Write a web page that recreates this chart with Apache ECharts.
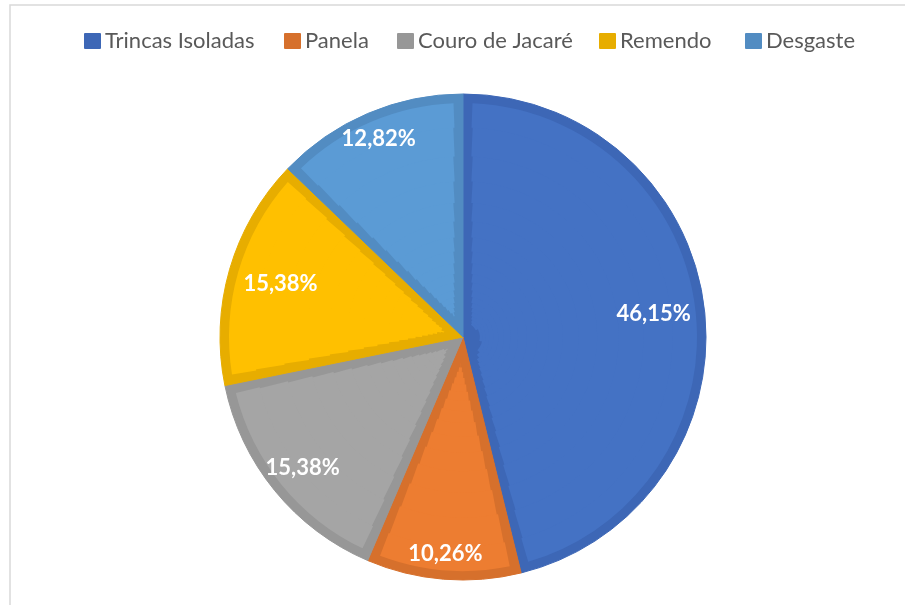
<!DOCTYPE html>
<html><head><meta charset="utf-8">
<script src="https://cdn.jsdelivr.net/npm/echarts@6/dist/echarts.min.js"></script>
<style>html,body{margin:0;padding:0;background:#fff}#c{width:905px;height:605px}</style>
</head><body><div id="c"></div>
<script>
// ---- data ----
const categories = ['Trincas Isoladas', 'Panela', 'Couro de Jacaré', 'Remendo', 'Desgaste'];
const percentages = [46.15, 10.26, 15.38, 15.38, 12.82];
// ---- styles ----
const fillColors = ['#4472C4', '#ED7D31', '#A5A5A5', '#FFC000', '#5B9BD5'];
const edgeColors = ['#3D67B6', '#D6702C', '#979797', '#E7AD00', '#528CC2'];
const labelRadius = [189, 215, 204, 187, 212];
const legendLefts = [84, 284, 397, 599, 745];

const CX = 463, CY = 337, R = 243, BAND = 9;
const FONT = 'Lato';

const chart = echarts.init(document.getElementById('c'));
const series = [];
const base = { type: 'pie', center: [CX, CY], startAngle: 90, clockwise: true, silent: true,
  label: { show: false }, labelLine: { show: false }, emphasis: { disabled: true }, animation: false };

// darker outline layer
series.push(Object.assign({}, base, {
  radius: [0, R],
  data: categories.map((n, i) => ({ name: n, value: percentages[i],
    itemStyle: { color: edgeColors[i], borderColor: edgeColors[i], borderWidth: 1 } }))
}));

// lighter inner fill, built from rings so the inset stays ~BAND px wide
const inner = R - BAND;
let r = 8;
while (r < inner) {
  let r2 = Math.min(inner, r * 1.16);
  if (inner - r2 < 3) r2 = inner;
  const mid = Math.sqrt(r * r2);
  const pad = (2 * BAND / mid) * 180 / Math.PI;
  series.push(Object.assign({}, base, {
    radius: [r, r2 >= inner ? inner : r2 + 1],
    padAngle: pad,
    data: categories.map((n, i) => ({ name: n, value: percentages[i],
      itemStyle: { color: fillColors[i], borderWidth: 0 } }))
  }));
  r = r2;
}

// labels
categories.forEach((name, k) => {
  series.push(Object.assign({}, base, {
    radius: [0, 2 * labelRadius[k]],
    itemStyle: { color: 'rgba(0,0,0,0)', borderWidth: 0 },
    label: { show: true, position: 'inside', rotate: 0, color: '#ffffff', fontSize: 22,
      fontWeight: 'bold', fontFamily: FONT,
      formatter: p => p.value.toFixed(2).replace('.', ',') + '%' },
    data: categories.map((n, i) => ({ name: n, value: percentages[i], label: { show: i === k } }))
  }));
});

chart.setOption({
  animation: false,
  backgroundColor: '#ffffff',
  graphic: [{ type: 'rect', silent: true, shape: { x: 10, y: 5, width: 1000, height: 1000 },
    style: { fill: 'none', stroke: '#d9d9d9', lineWidth: 1.5 } }],
  legend: categories.map((n, i) => ({
    data: [n], left: legendLefts[i], top: 30, padding: 0, orient: 'horizontal',
    itemWidth: 15, itemHeight: 14, itemGap: 5, icon: 'rect',
    textStyle: { color: '#595959', fontSize: 22, fontFamily: FONT, padding: [0, 0, 0, 0] }
  })),
  series: series
});
</script></body></html>
